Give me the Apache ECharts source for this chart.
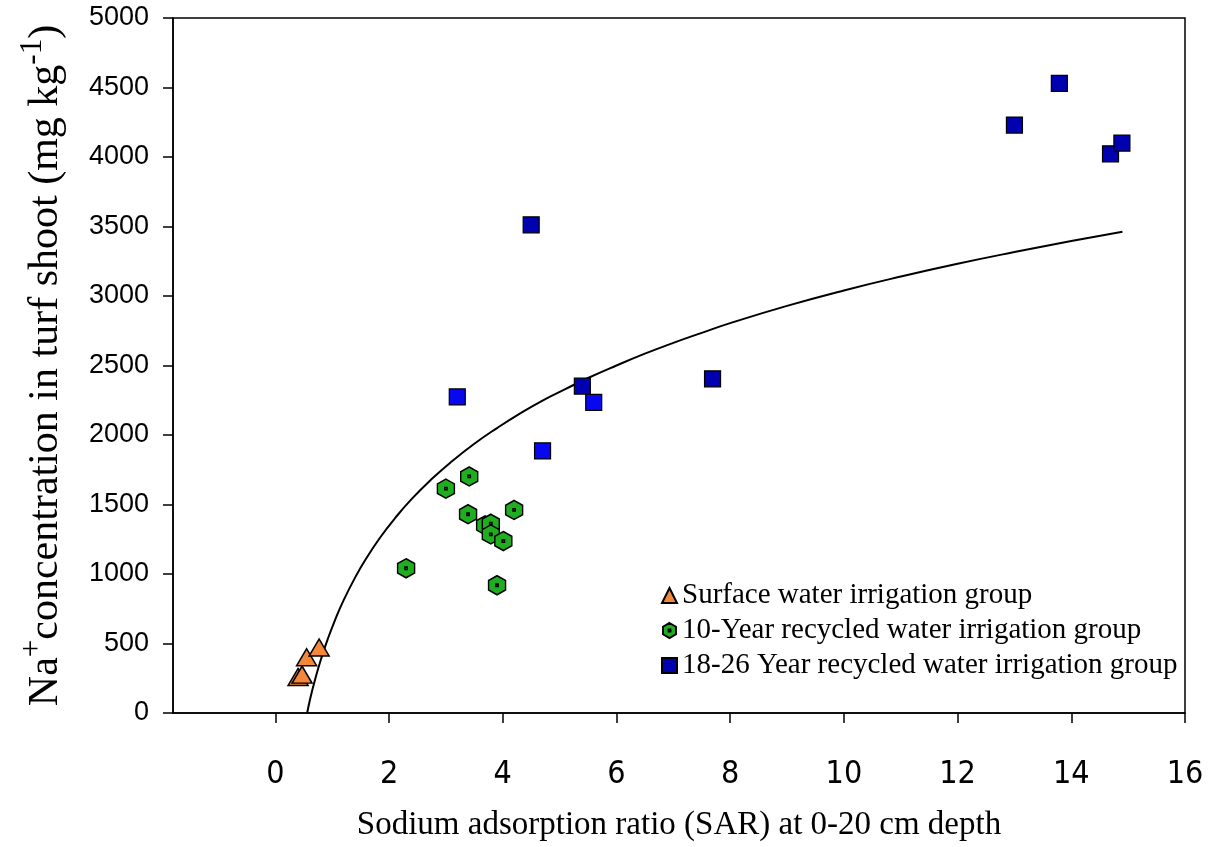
<!DOCTYPE html>
<html lang="en">
  <head>
    <meta charset="UTF-8" />
    <title>Na+ vs SAR</title>
    <script src="https://cdn.jsdelivr.net/npm/echarts@6/dist/echarts.min.js"></script>
    <style>
      body { margin: 0; background: #fff; }
    </style>
  </head>

  <body>
    <div id="main" style="width: 1219px; height: 847px"></div>

    <script type="text/javascript">
      // [SAR, Na+ mg/kg]
      const surfaceGroup = [[0.40, 259], [0.47, 276], [0.55, 401], [0.77, 471]];
      const tenYearGroup = [
        [2.30, 1041], [3.00, 1614], [3.41, 1702], [3.39, 1430], [4.20, 1461],
        [3.69, 1350], [3.79, 1362], [3.79, 1285], [4.01, 1237], [3.90, 919]
      ];
      // 18-26 year group, drawn in two shades of blue in the original
      const longGroupDark = [
        [4.50, 3512], [5.40, 2352], [7.69, 2404], [13.00, 4230],
        [13.79, 4530], [14.69, 4023], [14.89, 4100]
      ];
      const longGroupBright = [[3.20, 2274], [5.60, 2234], [4.70, 1886]];
      // fitted curve
      const fitCurve = [
        [0.56, 0], [0.62, 115], [0.7, 242], [0.8, 383], [0.92, 530],
        [1.05, 669], [1.2, 810], [1.4, 972], [1.6, 1113], [1.85, 1266],
        [2.1, 1399], [2.4, 1540], [2.75, 1683], [3.1, 1809], [3.5, 1937],
        [3.9, 2050], [4.3, 2154], [4.7, 2248], [5.1, 2330], [5.5, 2410],
        [6, 2500], [6.5, 2585], [7, 2663], [7.5, 2735], [8, 2805],
        [9, 2929], [10, 3040], [11, 3140], [12, 3232], [13, 3316],
        [14, 3395], [14.9, 3462]
      ];
      const xTicks = [0, 2, 4, 6, 8, 10, 12, 14, 16];

      const names = [
        "Surface water irrigation group",
        "10-Year recycled water irrigation group",
        "18-26 Year recycled water irrigation group"
      ];

      // pointy-top hexagon with a small centre square (its stroke gives the dot)
      const hexPath =
        "path://M50 0 L93.3 25 L93.3 75 L50 100 L6.7 75 L6.7 25 Z M44 44 L56 44 L56 56 L44 56 Z";

      let myChart = echarts.init(document.getElementById("main"));

      let options = {
        animation: false,
        backgroundColor: "#fff",
        grid: {
          left: 173,
          right: 34,
          top: 18,
          bottom: 122,
          show: true,
          borderColor: "#000",
          borderWidth: 1.5
        },
        legend: {
          data: names,
          orient: "vertical",
          left: 656,
          top: 576,
          itemWidth: 15,
          itemHeight: 15,
          itemGap: 6,
          textStyle: {
            fontFamily: "Liberation Serif",
            fontSize: 29,
            color: "#000"
          }
        },
        xAxis: {
          type: "value",
          min: -1.8,
          max: 16,
          splitLine: { show: false },
          axisLine: { onZero: false, lineStyle: { color: "#000", width: 1.5 } },
          axisTick: {
            customValues: xTicks,
            length: 10,
            lineStyle: { color: "#000", width: 1.5 }
          },
          axisLabel: {
            customValues: xTicks,
            margin: 46,
            fontFamily: "'DejaVu Sans Condensed', 'Liberation Sans Narrow', 'Liberation Sans'",
            fontSize: 32,
            color: "#000"
          },
          name: "Sodium adsorption ratio (SAR) at 0-20 cm depth",
          nameLocation: "middle",
          nameGap: 96,
          nameTextStyle: {
            fontFamily: "Liberation Serif",
            fontSize: 33,
            color: "#000"
          }
        },
        yAxis: {
          type: "value",
          min: 0,
          max: 5000,
          interval: 500,
          splitLine: { show: false },
          axisLine: { onZero: false, lineStyle: { color: "#000", width: 1.5 } },
          axisTick: { length: 10, lineStyle: { color: "#000", width: 1.5 } },
          axisLabel: {
            margin: 24,
            fontFamily: "Liberation Sans",
            fontSize: 27,
            color: "#000",
            formatter: (v) => String(v)
          },
          name: "{n|Na}{sup|+}{n|concentration in turf shoot (mg kg}{sup|-1}{n|)}",
          nameLocation: "middle",
          nameGap: 106,
          nameTextStyle: {
            color: "#000",
            rich: {
              n: {
                fontFamily: "Liberation Serif",
                fontSize: 42,
                color: "#000",
                verticalAlign: "bottom",
                lineHeight: 50
              },
              sup: {
                fontFamily: "Liberation Serif",
                fontSize: 31,
                color: "#000",
                verticalAlign: "top",
                lineHeight: 50
              }
            }
          }
        },
        series: [
          {
            name: "fit",
            type: "line",
            data: fitCurve,
            smooth: 0.5,
            showSymbol: false,
            lineStyle: { color: "#000", width: 2 },
            z: 1
          },
          {
            name: names[0],
            type: "scatter",
            data: surfaceGroup,
            symbol: "triangle",
            symbolSize: [20, 17],
            itemStyle: { color: "#f5873a", borderColor: "#000", borderWidth: 1.5, opacity: 1 },
            z: 3
          },
          {
            name: names[1],
            type: "scatter",
            data: tenYearGroup,
            symbol: hexPath,
            symbolSize: [17, 19],
            itemStyle: { color: "#1fae1f", borderColor: "#000", borderWidth: 1.5, opacity: 1 },
            z: 3
          },
          {
            name: names[2],
            type: "scatter",
            data: longGroupDark,
            symbol: "rect",
            symbolSize: 16,
            itemStyle: { color: "#0000b0", borderColor: "#000", borderWidth: 1.2, opacity: 1 },
            z: 3
          },
          {
            name: names[2],
            type: "scatter",
            data: longGroupBright,
            symbol: "rect",
            symbolSize: 16,
            itemStyle: { color: "#0808f0", borderColor: "#000", borderWidth: 1.2, opacity: 1 },
            z: 3
          }
        ]
      };

      myChart.setOption(options);
    </script>
  </body>
</html>
